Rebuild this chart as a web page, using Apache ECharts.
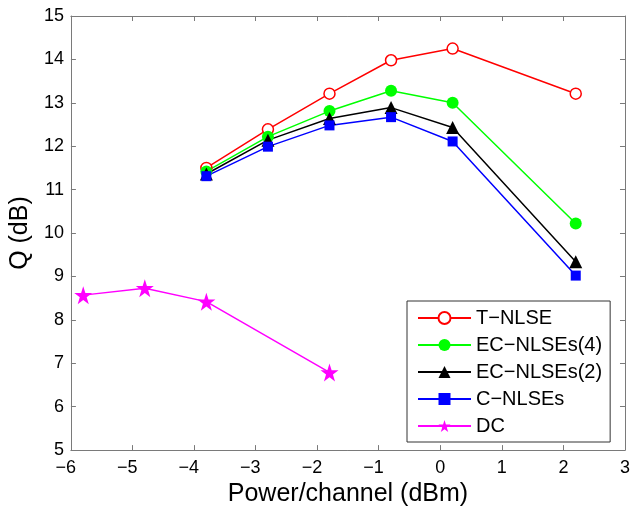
<!DOCTYPE html>
<html>
<head>
<meta charset="utf-8">
<script src="https://cdn.jsdelivr.net/npm/echarts@6/dist/echarts.min.js"></script>
<style>html,body{margin:0;padding:0;background:#fff;}#c{width:633px;height:512px;}</style>
</head>
<body>
<div id="c"></div>
<script>
// Data
const powerMain = [-3.8, -2.8, -1.8, -0.8, 0.2, 2.2];
const tNLSE = [11.50, 12.39, 13.21, 13.98, 14.25, 13.21];
const ecNLSEs4 = [11.42, 12.22, 12.81, 13.28, 13.00, 10.22];
const ecNLSEs2 = [11.36, 12.14, 12.64, 12.89, 12.43, 9.34];
const cNLSEs = [11.31, 11.99, 12.48, 12.67, 12.11, 9.02];
const powerDC = [-5.8, -4.8, -3.8, -1.8];
const dcQ = [8.57, 8.73, 8.42, 6.79];
const seriesNames = ['T\u2212NLSE', 'EC\u2212NLSEs(4)', 'EC\u2212NLSEs(2)', 'C\u2212NLSEs', 'DC'];
const xTicks = [-6, -5, -4, -3, -2, -1, 0, 1, 2, 3];
const yTicks = [5, 6, 7, 8, 9, 10, 11, 12, 13, 14, 15];

const pair = (xs, ys) => xs.map((x, i) => [x, ys[i]]);
const STAR = 'path://M0,-1 L0.2245,-0.309 L0.951,-0.309 L0.363,0.118 L0.588,0.809 L0,0.382 L-0.588,0.809 L-0.363,0.118 L-0.951,-0.309 L-0.2245,-0.309 Z';
const FONT = 'Liberation Sans, Arial, Helvetica, sans-serif';
const AX = '#7a7a7a';

function mk(name, xs, ys, color, symbol, size, empty) {
  return {
    name: name, type: 'line', xAxisIndex: 0, yAxisIndex: 0,
    data: pair(xs, ys), symbol: symbol, symbolSize: size,
    showAllSymbol: true, animation: false,
    lineStyle: { color: color, width: 1.5 },
    itemStyle: empty ? { color: '#fff', borderColor: color, borderWidth: 1.5 } : { color: color, borderColor: color, borderWidth: 0 }
  };
}

const chart = echarts.init(document.getElementById('c'), null, { renderer: 'canvas' });
const baseAxis = {
  type: 'value',
  axisLine: { show: true, onZero: false, lineStyle: { color: AX, width: 1 } },
  axisTick: { show: true, inside: true, length: 5, lineStyle: { color: AX, width: 1 } },
  splitLine: { show: false }
};
chart.setOption({
  animation: false,
  textStyle: { fontFamily: FONT },
  grid: { left: 70, right: 5, top: 16, bottom: 56, containLabel: false },
  xAxis: [
    Object.assign({}, baseAxis, {
      position: 'bottom', min: xTicks[0], max: xTicks[xTicks.length - 1], interval: 1,
      name: 'Power/channel (dBm)', nameLocation: 'middle', nameGap: 28,
      nameTextStyle: { fontSize: 25, color: '#000', fontFamily: FONT },
      axisLabel: {
        margin: 9, color: '#000', fontSize: 18, fontFamily: FONT,
        formatter: v => v < 0 ? '\u2212' + Math.abs(v) + '{p|}' : String(v),
        rich: { p: { width: 10.5 } }
      }
    }),
    Object.assign({}, baseAxis, {
      position: 'top', min: xTicks[0], max: xTicks[xTicks.length - 1], interval: 1,
      axisLabel: { show: false }
    })
  ],
  yAxis: [
    Object.assign({}, baseAxis, {
      position: 'left', min: yTicks[0], max: yTicks[yTicks.length - 1], interval: 1,
      name: 'Q (dB)', nameLocation: 'middle', nameGap: 36, nameRotate: 90,
      nameTextStyle: { fontSize: 25, color: '#000', fontFamily: FONT },
      axisLabel: { margin: 7, color: '#000', fontSize: 18, fontFamily: FONT }
    }),
    Object.assign({}, baseAxis, {
      position: 'right', min: yTicks[0], max: yTicks[yTicks.length - 1], interval: 1,
      axisLabel: { show: false }
    })
  ],
  legend: {
    orient: 'vertical', left: 407, top: 301,
    padding: [7, 8, 6, 10], itemGap: 7, itemWidth: 53, itemHeight: 15,
    backgroundColor: '#fff', borderColor: '#333', borderWidth: 1,
    textStyle: { fontSize: 20, color: '#000', fontFamily: FONT },
    data: seriesNames
  },
  series: [
    mk(seriesNames[0], powerMain, tNLSE, '#ff0000', 'circle', 11, true),
    mk(seriesNames[1], powerMain, ecNLSEs4, '#00ff00', 'circle', 12, false),
    mk(seriesNames[2], powerMain, ecNLSEs2, '#000000', 'triangle', 13, false),
    mk(seriesNames[3], powerMain, cNLSEs, '#0000ff', 'rect', 10, false),
    mk(seriesNames[4], powerDC, dcQ, '#ff00ff', STAR, 18, false)
  ]
});
</script>
</body>
</html>
